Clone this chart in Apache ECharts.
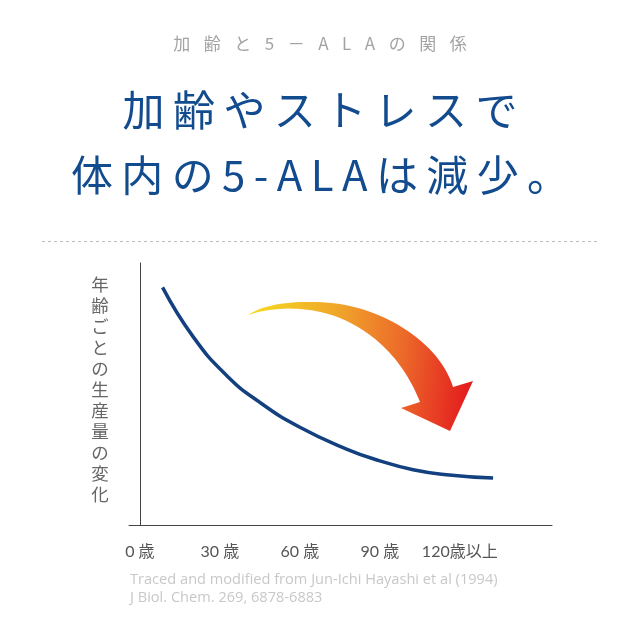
<!DOCTYPE html>
<html>
<head>
<meta charset="utf-8">
<script src="https://cdn.jsdelivr.net/npm/echarts@6/dist/echarts.min.js"></script>
<style>
html,body{margin:0;padding:0;background:#fff;}
#chart{width:640px;height:640px;}
</style>
</head>
<body>
<div id="chart"></div>
<script>
// ---- data ----
const subtitle = "加齢と5－ALAの関係";
const headline1 = "加齢やストレスで";
const headline2 = "体内の5-ALAは減少。";
const yAxisTitle = "年齢ごとの生産量の変化";
const xTickValues = [0, 30, 60, 90, 120];
const xTickLabels = ["0 歳", "30 歳", "60 歳", "90 歳", "120歳以上"];
const ages = [8.5, 20, 32.5, 45, 60, 77.5, 90, 102.5, 115, 132.5];
const production = [90.7, 71.8, 57.1, 46.8, 37.3, 29.0, 24.5, 21.1, 19.2, 17.9];
const footnote = ["Traced and modified from Jun-Ichi Hayashi et al (1994)", "J Biol. Chem. 269, 6878-6883"];

// ---- helpers ----
function spaced(s, sep) { return Array.from(s).join(sep); }
function richSpaced(s) { return Array.from(s).join('{s| }'); }
function bez(p0, p1, p2, p3, n) {
  const pts = [];
  for (let i = 0; i <= n; i++) {
    const t = i / n, u = 1 - t;
    pts.push([
      u*u*u*p0[0] + 3*u*u*t*p1[0] + 3*u*t*t*p2[0] + t*t*t*p3[0],
      u*u*u*p0[1] + 3*u*u*t*p1[1] + 3*u*t*t*p2[1] + t*t*t*p3[1]
    ]);
  }
  return pts;
}
const arrowPts = [].concat(
  bez([248,315],[265,303],[300,299],[340,304],20),
  bez([340,304],[390,312],[440,345],[453,387],30),
  [[473,381],[450,431],[401,408],[420,402]],
  bez([420,402],[405,365],[380,335],[340,318],30),
  bez([340,318],[310,306],[275,306],[248,315],20)
);

const chart = echarts.init(document.getElementById('chart'), null, {renderer: 'canvas'});
const cjk = "'Noto Sans CJK JP', 'Noto Sans', sans-serif";

chart.setOption({
  backgroundColor: '#ffffff',
  animation: false,
  grid: {left: 129, right: 88, top: 263, bottom: 115, containLabel: false},
  xAxis: {
    type: 'value',
    min: -4.1,
    max: 154.6,
    splitLine: {show: false},
    axisTick: {show: false},
    axisLine: {show: true, lineStyle: {color: '#444', width: 1}},
    axisLabel: {
      customValues: xTickValues,
      formatter: function (v) { return xTickLabels[xTickValues.indexOf(v)]; },
      color: '#555',
      fontSize: 16,
      fontFamily: "Lato, " + cjk,
      margin: 19
    }
  },
  yAxis: {
    type: 'value',
    min: 0,
    max: 100,
    splitLine: {show: false},
    axisTick: {show: false},
    axisLabel: {show: false},
    axisLine: {show: true, lineStyle: {color: '#444', width: 1}}
  },
  series: [{
    type: 'line',
    data: ages.map((a, i) => [a, production[i]]),
    smooth: true,
    showSymbol: false,
    lineStyle: {color: '#13407f', width: 3.5, cap: 'butt'},
    silent: true
  }],
  graphic: [
    {
      type: 'text', left: 'center', top: 35,
      style: {
        text: richSpaced(subtitle), fill: '#a3a3a3', font: "17px " + cjk,
        rich: {s: {width: 13.5, fontSize: 17}}
      }
    },
    {
      type: 'text', left: 'center', top: 89,
      style: {text: spaced(headline1, '\u2009'), fill: '#124b8e', font: "42px " + cjk}
    },
    {
      type: 'text', left: 'center', top: 154,
      style: {text: spaced(headline2, '\u2009'), fill: '#124b8e', font: "42px " + cjk}
    },
    {
      type: 'line',
      shape: {x1: 42, y1: 241.5, x2: 600, y2: 241.5},
      style: {stroke: '#bdbdbd', lineWidth: 1, lineDash: [3, 3]}
    },
    {
      type: 'text', x: 100, y: 389,
      style: {
        text: Array.from(yAxisTitle).join('\n'),
        fill: '#666', font: "17.5px " + cjk, lineHeight: 21,
        textAlign: 'center', textVerticalAlign: 'middle'
      }
    },
    {
      type: 'polygon',
      shape: {points: arrowPts},
      style: {
        fill: new echarts.graphic.LinearGradient(0, 0, 1, 0.2, [
          {offset: 0, color: '#f5dc22'},
          {offset: 0.4, color: '#f0a52a'},
          {offset: 0.7, color: '#ec6a2a'},
          {offset: 1, color: '#e4201f'}
        ])
      }
    },
    {
      type: 'text', x: 130, y: 580,
      style: {text: footnote[0], fill: '#c8c8c8', font: "14.6px 'Open Sans', sans-serif", textVerticalAlign: 'middle'}
    },
    {
      type: 'text', x: 130, y: 598,
      style: {text: footnote[1], fill: '#c8c8c8', font: "14.6px 'Open Sans', sans-serif", textVerticalAlign: 'middle'}
    }
  ]
});
</script>
</body>
</html>
